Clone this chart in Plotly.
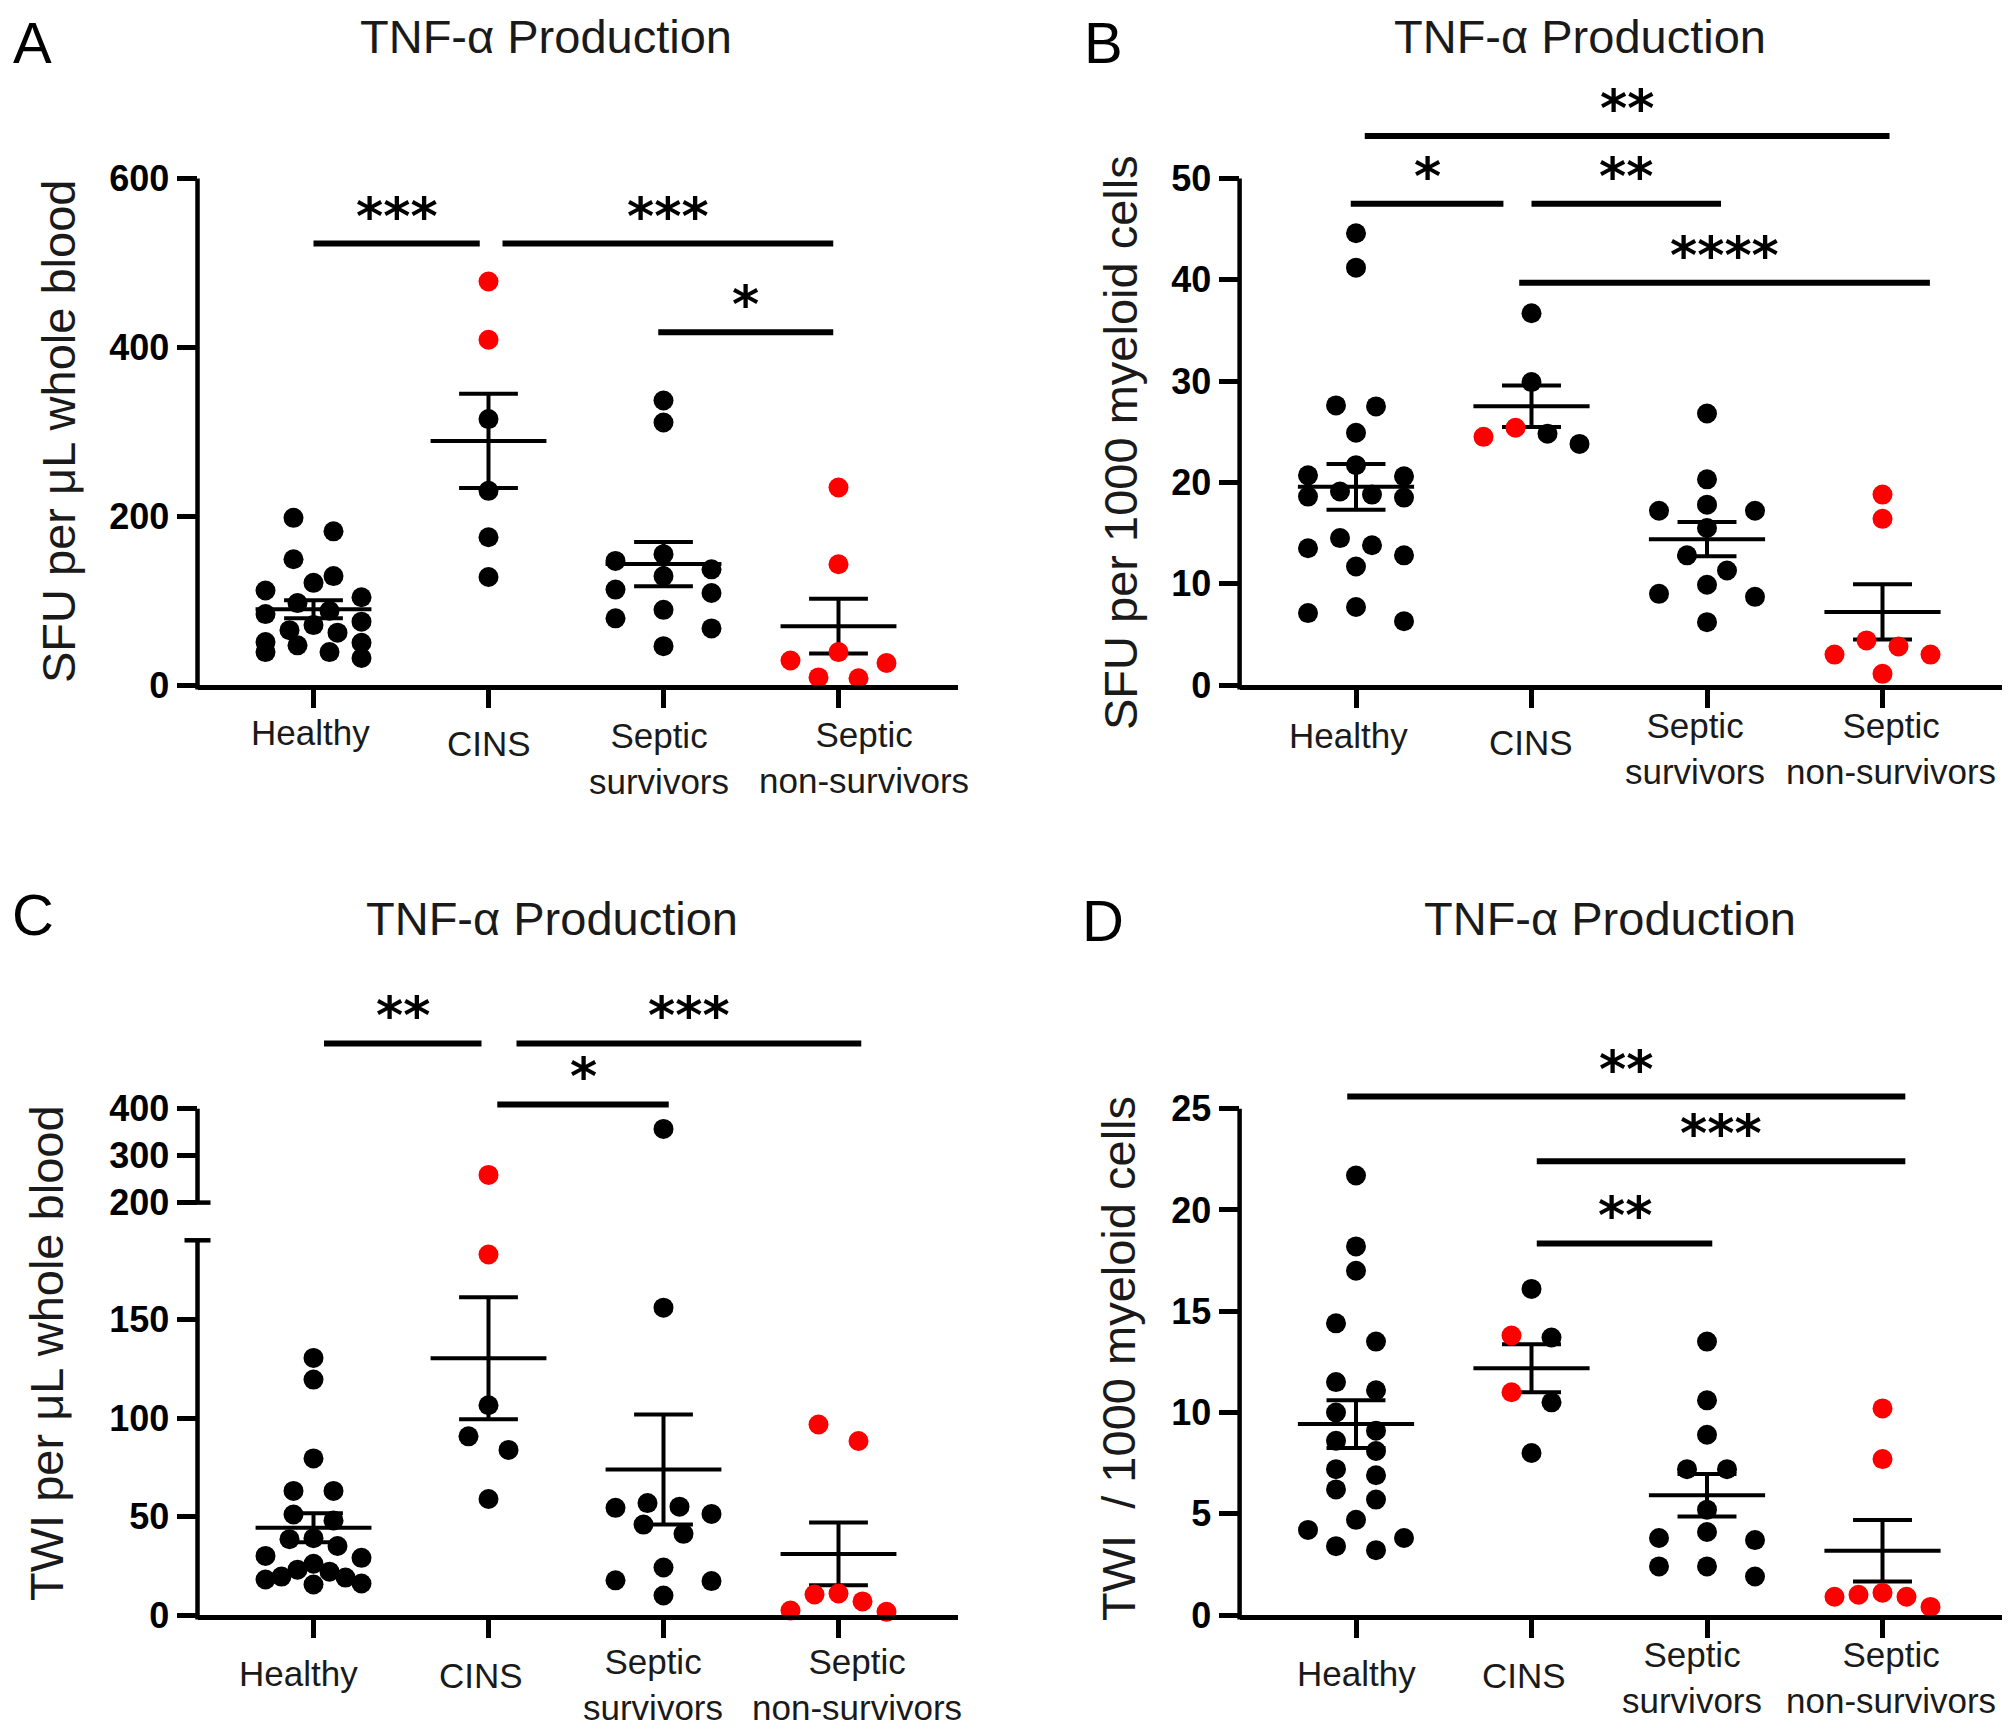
import numpy as np
import plotly.graph_objects as go

W, H = 2010, 1731
OFF = 8  # default page body margin of the html output
FONT = "Liberation Sans, Arial, Helvetica, sans-serif"
STARFONT = "DejaVu Sans, Liberation Sans, sans-serif"

categories = ["Healthy", "CINS", "Septic<br>survivors", "Septic<br>non-survivors"]
panel_title = "TNF-α Production"

# ---------------- Panel A : SFU per µL whole blood ----------------
A_healthy = [198, 182, 149, 129, 121, 112, 104, 97, 88, 84, 75, 71, 65, 62, 51, 50, 47, 39, 39, 32]
A_cins_black = [315, 230, 175, 128]
A_cins_red = [478, 409]
A_surv = [337, 311, 155, 147, 137, 129, 113, 109, 89, 79, 67, 46]
A_nonsurv_red = [234, 143, 39, 29, 26, 9, 8]
A_ticks = [0, 200, 400, 600]
A_sig = [(0.0, 0.95, 523, "***"), (1.08, 2.97, 523, "***"), (1.97, 2.97, 418, "*")]

# ---------------- Panel B : SFU per 1000 myeloid cells ----------------
B_healthy = [44.6, 41.2, 27.6, 27.5, 24.9, 21.7, 20.7, 20.6, 19.1, 18.8, 18.6, 18.5,
             14.5, 13.8, 13.5, 12.8, 11.7, 7.7, 7.1, 6.3]
B_cins_black = [36.7, 29.9, 24.8, 23.8]
B_cins_red = [25.4, 24.5]
B_surv = [26.8, 20.3, 17.8, 17.2, 17.2, 15.5, 12.8, 11.3, 9.9, 9.0, 8.7, 6.2]
B_nonsurv_red = [18.8, 16.4, 4.4, 3.8, 3.0, 3.0, 1.1]
B_ticks = [0, 10, 20, 30, 40, 50]
B_sig = [(0.05, 3.04, 54.2, "**"), (-0.03, 0.84, 47.5, "*"), (1.0, 2.08, 47.5, "**"),
         (0.93, 3.27, 39.7, "****")]

# ---------------- Panel C : TWI per µL whole blood (broken axis) ----------------
C_healthy = [130.5, 119.5, 79.5, 63, 63, 51, 48, 39, 38.5, 35, 30, 29, 26, 23, 22,
             19.5, 19, 18, 16, 15.5]
C_cins_black = [106.5, 90.7, 83.8, 58.9]
C_cins_red = [259, 183]
C_surv = [357, 156, 56.8, 55, 54.4, 51.3, 45.9, 41.2, 24.1, 17.6, 17.2, 9.9]
C_nonsurv_red = [96.7, 88.3, 10.9, 10.4, 6.9, 2.3, 1.6]
C_ticks_low = [0, 50, 100, 150]
C_ticks_high = [200, 300, 400]
C_sig = [(0.06, 0.96, 539, "**"), (1.16, 3.13, 539, "***"), (1.05, 2.03, 409, "*")]

# ---------------- Panel D : TWI / 1000 myeloid cells ----------------
D_healthy = [21.7, 18.2, 17.0, 14.4, 13.5, 11.5, 11.1, 10.0, 9.1, 8.6, 8.1, 7.2, 6.9,
             6.2, 5.7, 4.7, 4.2, 3.8, 3.4, 3.2]
D_cins_black = [16.1, 13.7, 10.5, 8.0]
D_cins_red = [13.8, 11.0]
D_surv = [13.5, 10.6, 8.9, 7.2, 7.2, 5.2, 4.1, 3.8, 3.7, 2.4, 2.4, 1.9]
D_nonsurv_red = [10.2, 7.7, 1.1, 1.0, 0.9, 0.9, 0.4]
D_ticks = [0, 5, 10, 15, 20, 25]
D_sig = [(-0.05, 3.13, 25.6, "**"), (1.03, 3.13, 22.4, "***"), (1.03, 2.03, 18.35, "**")]


# ======================= layout geometry (pixels) =======================
def xf(px):
    return (px - OFF) / W


def yf(py):
    return 1 - (py - OFF) / H


layout = dict(width=W, height=H, margin=dict(l=0, r=0, t=0, b=0, autoexpand=False),
              paper_bgcolor="white", plot_bgcolor="rgba(0,0,0,0)", showlegend=False)
shapes, annotations = [], []
AXW = 4.5


def make_xaxis(key, left, c0, step, right, anchor):
    layout[key] = dict(domain=[xf(left), xf(right)], range=[(left - c0) / step, (right - c0) / step],
                       anchor=anchor, tickmode="array", tickvals=[0, 1, 2, 3],
                       showticklabels=False, automargin=False,
                       ticks="outside", ticklen=18, tickwidth=AXW, tickcolor="black",
                       showline=True, linewidth=AXW, linecolor="black", showgrid=False,
                       zeroline=False)


def make_yaxis(key, bot_px, top_px, v_bot, ppu, tickvals, anchor):
    layout[key] = dict(domain=[yf(bot_px), yf(top_px)], range=[v_bot, v_bot + (bot_px - top_px) / ppu],
                       anchor=anchor, tickmode="array", tickvals=tickvals, ticks="outside",
                       automargin=False,
                       ticklen=20, tickwidth=AXW, tickcolor="black", showline=False,
                       showgrid=False, zeroline=False,
                       tickfont=dict(family=FONT, size=36, color="black", weight="bold"))


def vline(xpx, y0px, y1px, w=AXW):
    shapes.append(dict(type="line", xref="paper", yref="paper", x0=xf(xpx), x1=xf(xpx),
                       y0=yf(y0px), y1=yf(y1px), line=dict(color="black", width=w)))


def hline(x0px, x1px, ypx, w=AXW):
    shapes.append(dict(type="line", xref="paper", yref="paper", x0=xf(x0px), x1=xf(x1px),
                       y0=yf(ypx), y1=yf(ypx), line=dict(color="black", width=w)))


def text(xpx, ypx, s, size, angle=0, weight="normal", color="#1a1a1a", yanchor="middle"):
    annotations.append(dict(x=xf(xpx), y=yf(ypx), xref="paper", yref="paper", text=s,
                            showarrow=False, xanchor="center", yanchor=yanchor, textangle=angle,
                            font=dict(family=FONT, size=size, color=color, weight=weight)))


def category_labels(c0, step, placement):
    # placement: per-category (dx, y-centre) of the label, in px
    for gi, (lab, (dx, ycen)) in enumerate(zip(categories, placement)):
        text(c0 + gi * step + dx, ycen, lab, 35)


def swarm(vals, to_px, diam=20, wide=48, pair=20):
    order = sorted(range(len(vals)), key=lambda i: -vals[i])
    offs = [0.0] * len(vals)
    rows, cur = [], []
    for i in order:
        if cur and abs(to_px(vals[cur[0]]) - to_px(vals[i])) >= diam:
            rows.append(cur)
            cur = []
        cur.append(i)
    if cur:
        rows.append(cur)
    for r in rows:
        k = len(r)
        if k == 1:
            slots = [0.0]
        elif k == 2:
            slots = [-pair, pair]
        else:
            slots = list(np.linspace(-wide, wide, k))
        slots = sorted(slots, key=lambda s: (abs(s), s))
        for i, s in zip(r, slots):
            offs[i] = s
    return offs


traces_lines, traces_pts = [], []


def add_panel(xkey, groups, step, to_px, axis_for):
    xs_l, ys_l = [], []
    pts = {}
    for gi, (blacks, reds) in enumerate(groups):
        vals = list(blacks) + list(reds)
        cols = ["black"] * len(blacks) + ["#ff0000"] * len(reds)
        offs = swarm(vals, to_px)
        for v, c, o in zip(vals, cols, offs):
            ax = axis_for(v)
            pts.setdefault((ax, c), ([], []))
            pts[(ax, c)][0].append(gi + o / step)
            pts[(ax, c)][1].append(v)
        arr = np.array(vals, dtype=float)
        m = arr.mean()
        s = arr.std(ddof=1) / np.sqrt(len(arr))
        xs_l += [gi - 0.331, gi + 0.331, None, gi, gi, None,
                 gi - 0.168, gi + 0.168, None, gi - 0.168, gi + 0.168, None]
        ys_l += [m, m, None, m - s, m + s, None, m + s, m + s, None, m - s, m - s, None]
    low_ax = axis_for(0)
    traces_lines.append(go.Scatter(x=xs_l, y=ys_l, xaxis=xkey, yaxis=low_ax, mode="lines",
                                   line=dict(color="black", width=4), hoverinfo="skip"))
    for (ax, c), (xx, yy) in pts.items():
        traces_pts.append(go.Scatter(x=xx, y=yy, xaxis=xkey, yaxis=ax, mode="markers",
                                     marker=dict(size=20, color=c, line=dict(width=0)),
                                     cliponaxis=False))


def add_sig(xkey, ykey, sig):
    for x0, x1, yv, lab in sig:
        shapes.append(dict(type="line", xref=xkey, yref=ykey, x0=x0, x1=x1, y0=yv, y1=yv,
                           line=dict(color="black", width=6)))
        annotations.append(dict(x=(x0 + x1) / 2, y=yv, xref=xkey, yref=ykey, text=lab,
                                showarrow=False, yanchor="middle", yshift=28,
                                font=dict(family=STARFONT, size=52, color="black", weight="bold")))


# ---- geometry of left/right columns
LX = dict(left=197.5, c0=313.5, step=175.0, right=958)
RX = dict(left=1239.6, c0=1356.0, step=175.5, right=2002)

# Panel A
A_y0, A_ppu = 685.0, 506.5 / 600
make_xaxis("xaxis", LX["left"], LX["c0"], LX["step"], LX["right"], "y")
make_yaxis("yaxis", A_y0, 90, 0, A_ppu, A_ticks, "x")
vline(LX["left"], A_y0 + AXW, A_y0 - 600 * A_ppu)
add_panel("x", [(A_healthy, []), (A_cins_black, A_cins_red), (A_surv, []), ([], A_nonsurv_red)],
          LX["step"], lambda v: A_y0 - v * A_ppu, lambda v: "y")
add_sig("x", "y", A_sig)
category_labels(LX["c0"], LX["step"], [(-3, 732), (0, 743), (-5, 759), (25, 757)])

# Panel B
B_y0, B_ppu = 685.0, 506.5 / 50
make_xaxis("xaxis2", RX["left"], RX["c0"], RX["step"], RX["right"], "y2")
make_yaxis("yaxis2", B_y0, 60, 0, B_ppu, B_ticks, "x2")
vline(RX["left"], B_y0 + AXW, B_y0 - 50 * B_ppu)
add_panel("x2", [(B_healthy, []), (B_cins_black, B_cins_red), (B_surv, []), ([], B_nonsurv_red)],
          RX["step"], lambda v: B_y0 - v * B_ppu, lambda v: "y2")
add_sig("x2", "y2", B_sig)
category_labels(RX["c0"], RX["step"], [(-8, 736), (-1, 742), (-12, 749), (8, 749)])

# Panel C (broken axis)
C_y0, C_ppu = 1615.0, 98.5 / 50
C_lowtop = 1240.3
C_hi_base, C_hi_px, C_hi_ppu = 200, 1202.6, 93.9 / 200
make_xaxis("xaxis3", LX["left"], LX["c0"], LX["step"], LX["right"], "y3")
make_yaxis("yaxis3", C_y0, C_lowtop, 0, C_ppu, C_ticks_low, "x3")
make_yaxis("yaxis5", C_hi_px, 960, C_hi_base, C_hi_ppu, C_ticks_high, "x3")
vline(LX["left"], C_y0 + AXW, C_lowtop)
hline(LX["left"] - 13, LX["left"] + 13, C_lowtop)
vline(LX["left"], C_hi_px, C_hi_px - 200 * C_hi_ppu)
hline(LX["left"] - 13, LX["left"] + 13, C_hi_px)


def C_px(v):
    return C_y0 - v * C_ppu if v < 195 else C_hi_px - (v - C_hi_base) * C_hi_ppu


add_panel("x3", [(C_healthy, []), (C_cins_black, C_cins_red), (C_surv, []), ([], C_nonsurv_red)],
          LX["step"], C_px, lambda v: "y5" if v > 195 else "y3")
add_sig("x3", "y5", C_sig)
category_labels(LX["c0"], LX["step"], [(-15, 1673), (-8, 1675), (-11, 1684), (18, 1684)])

# Panel D
D_y0, D_ppu = 1615.0, 506.3 / 25
make_xaxis("xaxis4", RX["left"], RX["c0"], RX["step"], RX["right"], "y4")
make_yaxis("yaxis4", D_y0, 960, 0, D_ppu, D_ticks, "x4")
vline(RX["left"], D_y0 + AXW, D_y0 - 25 * D_ppu)
add_panel("x4", [(D_healthy, []), (D_cins_black, D_cins_red), (D_surv, []), ([], D_nonsurv_red)],
          RX["step"], lambda v: D_y0 - v * D_ppu, lambda v: "y4")
add_sig("x4", "y4", D_sig)
category_labels(RX["c0"], RX["step"], [(0, 1673), (-8, 1675), (-15, 1677), (8, 1677)])

# ---- titles, panel letters and axis titles
for tx in (546, 1580):
    text(tx, OFF, panel_title, 47, yanchor="top")
for (tx, ty) in [(552, 918), (1610, 918)]:
    text(tx, ty, panel_title, 47)
text(32, OFF, "A", 58, color="black", yanchor="top")
for (lx, ly, s) in [(1103, 42, "B"), (33, 914, "C"), (1103, 921, "D")]:
    text(lx, ly, s, 58, color="black")
text(58, 432, "SFU per μL whole blood", 47, angle=-90)
text(1120, 443, "SFU per 1000 myeloid cells", 47, angle=-90)
text(46, 1353, "TWI per μL whole blood", 47, angle=-90)
text(1118, 1359, "TWI\u00a0 / 1000 myeloid cells", 47, angle=-90)

layout["shapes"] = shapes
layout["annotations"] = annotations

fig = go.Figure(data=traces_lines + traces_pts)
fig.update_layout(**layout)
fig.write_html("out.html")
